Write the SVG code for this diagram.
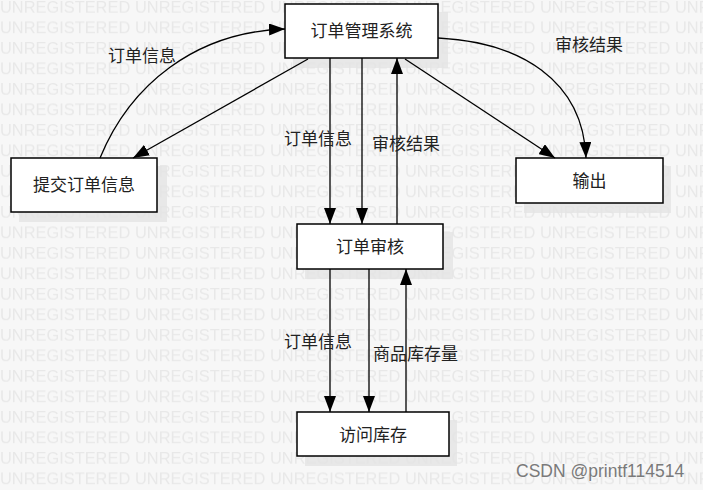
<svg xmlns="http://www.w3.org/2000/svg" width="703" height="490" viewBox="0 0 703 490">
<style>
.node{fill:#fff;stroke:#000;stroke-width:1.5}
.shadow{fill:#e4e4e4;opacity:0.8}
.lbl{font-family:"Noto Sans CJK SC","Liberation Sans",sans-serif;font-size:17px;fill:#222}
.ntxt{font-family:"Noto Sans CJK SC","Liberation Sans",sans-serif;font-size:17px;fill:#222;text-anchor:middle}
.edge{fill:none;stroke:#000;stroke-width:1.3;marker-end:url(#arr)}
.wm{font-family:"Liberation Sans",sans-serif;font-size:16.4px;fill:#e8e8e8}
</style>
<defs>
<marker id="arr" viewBox="0 0 16 12" refX="16" refY="6" markerWidth="16" markerHeight="12" markerUnits="userSpaceOnUse" orient="auto">
<path d="M0,0 L16,6 L0,12 Z" fill="#000"/>
</marker>
<pattern id="wmp" x="0" y="0" width="135" height="20.5" patternUnits="userSpaceOnUse">
<text class="wm" x="0" y="13">UNREGISTERED</text>
</pattern>
</defs>
<rect width="703" height="490" fill="#f7f7f7"/>
<rect width="703" height="490" fill="url(#wmp)"/>

<g id="n-system">
<rect class="shadow" x="293" y="12" width="155" height="56"/>
<rect class="node" x="285" y="4" width="153" height="54"/>
<text class="ntxt" x="361.5" y="37">订单管理系统</text>
</g>
<g id="n-submit">
<rect class="shadow" x="19" y="166" width="148" height="56"/>
<rect class="node" x="11" y="158" width="146" height="54"/>
<text class="ntxt" x="84" y="191">提交订单信息</text>
</g>
<g id="n-output">
<rect class="shadow" x="524" y="166" width="147" height="47"/>
<rect class="node" x="516" y="158" width="147" height="45"/>
<text class="ntxt" x="589.5" y="187">输出</text>
</g>
<g id="n-review">
<rect class="shadow" x="305" y="232" width="148" height="47"/>
<rect class="node" x="297" y="224" width="146" height="45"/>
<text class="ntxt" x="370" y="253">订单审核</text>
</g>
<g id="n-stock">
<rect class="shadow" x="305" y="420" width="152" height="46"/>
<rect class="node" x="297" y="412" width="152" height="44"/>
<text class="ntxt" x="373" y="441">访问库存</text>
</g>

<g id="connectors">
<path class="edge" d="M100,158 C130,85 195,32 285,29"/>
<path class="edge" d="M308,59 L133,158"/>
<path class="edge" d="M330,58 L330,224"/>
<path class="edge" d="M362,58 L362,224"/>
<path class="edge" d="M397,224 L397,58"/>
<path class="edge" d="M405,59 L555,158"/>
<path class="edge" d="M438,38 C520,42 583,80 586,158"/>
<path class="edge" d="M330,269 L330,412"/>
<path class="edge" d="M369,269 L369,412"/>
<path class="edge" d="M406,412 L406,269"/>
</g>

<g id="labels">
<text class="lbl" x="108" y="62">订单信息</text>
<text class="lbl" x="284" y="145">订单信息</text>
<text class="lbl" x="372" y="150">审核结果</text>
<text class="lbl" x="555" y="51">审核结果</text>
<text class="lbl" x="284" y="348">订单信息</text>
<text class="lbl" x="373" y="360">商品库存量</text>
</g>
<text x="516" y="477" font-family="Liberation Sans, sans-serif" font-size="17.5" fill="#7a7a7a">CSDN @printf114514</text>
</svg>
